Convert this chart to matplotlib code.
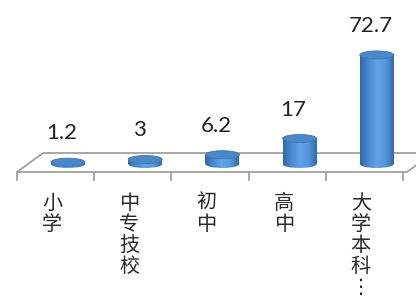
import numpy as np
import matplotlib.pyplot as plt
from matplotlib.patches import Ellipse, Polygon
from matplotlib.colors import LinearSegmentedColormap

plt.rcParams['font.family'] = ['Noto Sans CJK SC', 'DejaVu Sans']

# data
categories = ["小学", "中专技校", "初中", "高中", "大学本科…"]
values = [1.2, 3, 6.2, 17, 72.7]
value_labels = ["1.2", "3", "6.2", "17", "72.7"]

W, H = 416, 307
fig = plt.figure(figsize=(W / 100, H / 100), dpi=100)
ax = fig.add_axes([0, 0, 1, 1])

# pixel -> data scale: x in category index, y in value units
px_x = 77.2      # pixels per category
px_y = 1.5       # pixels per value unit
base_px = (68, 164)   # pixel of category 0, value 0
ax.set_xlim(-base_px[0] / px_x, (W - base_px[0]) / px_x)
ax.set_ylim(-(H - base_px[1]) / px_y, base_px[1] / px_y)
ax.axis("off")

# floor plane with depth offset (back -> front)
dx = -26 / px_x
dy = -19 / px_y
back_y = 11 / px_y
back_x0 = (43 - base_px[0]) / px_x
back_x1 = back_x0 + len(categories) + 0.05
floor = Polygon([(back_x0, back_y), (back_x1, back_y),
                 (back_x1 + dx, back_y + dy), (back_x0 + dx, back_y + dy)],
                closed=True, facecolor="white", edgecolor="#a0a0a0", lw=1.3, zorder=1)
ax.add_patch(floor)

# ticks on front edge
front_y = back_y + dy
for i in range(len(categories) + 1):
    x = back_x0 + dx + i
    ax.plot([x, x], [front_y, front_y - 8 / px_y], color="#a0a0a0", lw=1.3, zorder=1)

# cylinders
cw = 34 / px_x
eh = 8 / px_y
grad = np.linspace(0, 1, 256).reshape(1, -1)
cmap = LinearSegmentedColormap.from_list(
    "cyl", ["#2f68a8", "#4a8ad0", "#62a2e6", "#5596dc", "#2f6aab"])
for i, v in enumerate(values):
    x0 = i - cw / 2
    # body
    im = ax.imshow(grad, extent=(x0, x0 + cw, 0, v), aspect="auto",
                   cmap=cmap, zorder=3, interpolation="bilinear")
    clip = Polygon([(x0, 0), (x0, v), (x0 + cw, v), (x0 + cw, 0)], closed=True,
                   facecolor="none", edgecolor="none")
    ax.add_patch(clip)
    im.set_clip_path(clip)
    # rounded bottom
    bb = ax.imshow(grad, extent=(x0, x0 + cw, -eh / 2, 0), aspect="auto",
                   cmap=cmap, zorder=3, interpolation="bilinear")
    bclip = Ellipse((i, 0), cw, eh, facecolor="none", edgecolor="none")
    ax.add_patch(bclip)
    bb.set_clip_path(bclip)
    # top
    top = Ellipse((i, v), cw, eh, facecolor="#4a88cc", edgecolor="#3a74b6",
                  lw=0.6, zorder=4)
    ax.add_patch(top)
    ax.text(i - 6 / px_x, v + 29 / px_y, value_labels[i], ha="center", va="center",
            fontsize=16, color="#222222", family=["Lato", "DejaVu Sans"],
            zorder=5)

# vertical category labels
for i, c in enumerate(categories):
    x = i - 16 / px_x
    y = -29 / px_y
    for k, ch in enumerate(c):
        s = "⋮" if ch == "…" else ch
        ax.text(x, y - k * 21 / px_y, s, ha="center", va="top", fontsize=14.5,
                color="#2a2a2a", zorder=5)

fig.savefig("out.png", dpi=100, facecolor="white")
